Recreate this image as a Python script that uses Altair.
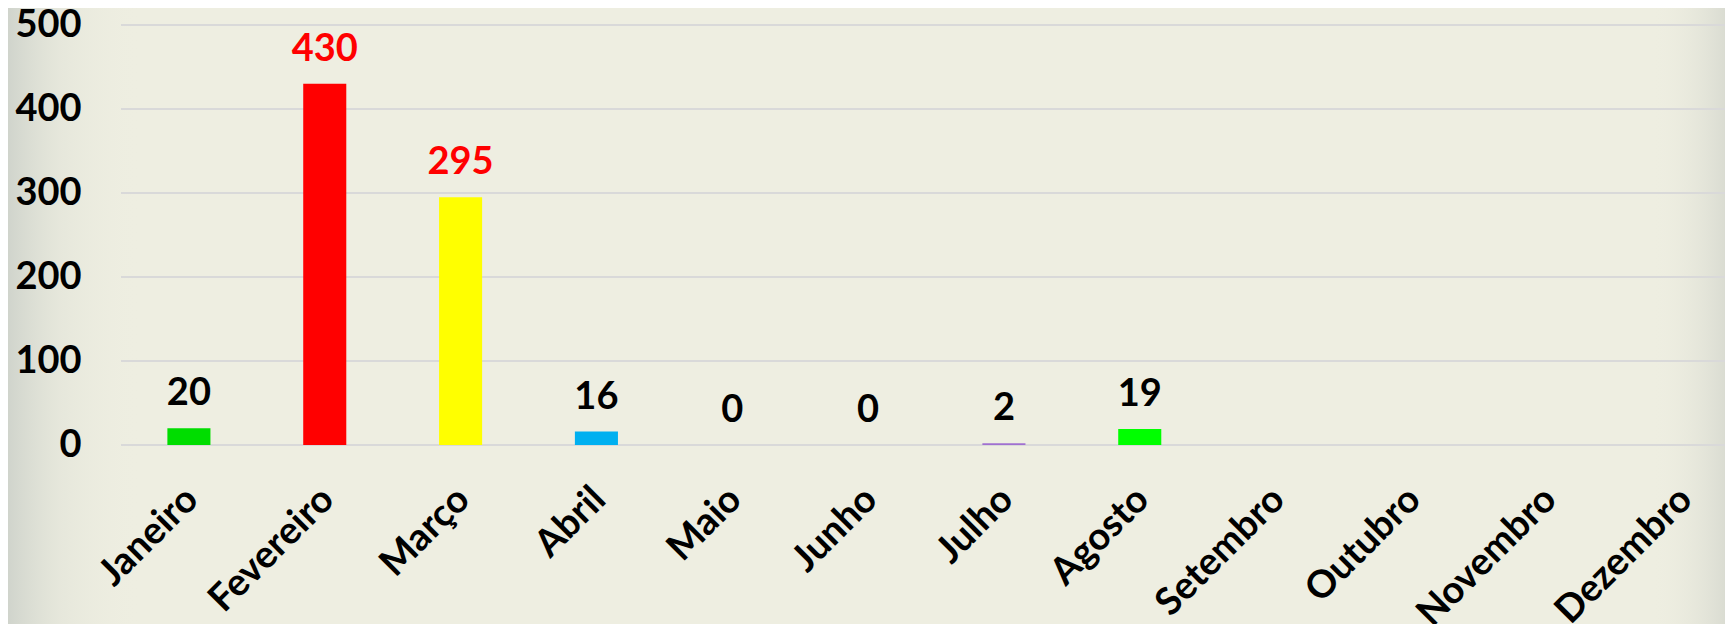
import altair as alt
import pandas as pd

months = ["Janeiro", "Fevereiro", "Março", "Abril", "Maio", "Junho",
          "Julho", "Agosto", "Setembro", "Outubro", "Novembro", "Dezembro"]
values = [20, 430, 295, 16, 0, 0, 2, 19, None, None, None, None]
bar_colors = ["#00DD00", "#FF0000", "#FFFF00", "#00B0F0", "#00B0F0", "#00B0F0",
              "#A070D0", "#00FF00", "#00FF00", "#00FF00", "#00FF00", "#00FF00"]
label_colors = ["#000000", "#FF0000", "#FF0000", "#000000", "#000000", "#000000",
                "#000000", "#000000", "#000000", "#000000", "#000000", "#000000"]
y_ticks = [0, 100, 200, 300, 400, 500]

df = pd.DataFrame({"mes": months, "valor": values,
                   "cor": bar_colors, "cor_rotulo": label_colors})
grid_df = pd.DataFrame({"valor": y_ticks})
one = pd.DataFrame({"k": [0]})

FONT = "Lato"

x_enc = alt.X("mes:N", sort=months,
              scale=alt.Scale(domain=months, range=[0, 1630],
                              paddingInner=0.683, paddingOuter=0.3415),
              axis=alt.Axis(title=None, labelAngle=-45, labelFontSize=38,
                            labelFontWeight="bold", labelColor="#000000",
                            labelFont=FONT, ticks=False, domain=False,
                            labelPadding=35, labelOffset=-10, labelLimit=400,
                            labelOverlap=False, grid=False, zindex=2))
y_scale = alt.Scale(domain=[0, 500], nice=False)
y_enc = alt.Y("valor:Q", scale=y_scale,
              axis=alt.Axis(title=None, values=y_ticks, labelFontSize=38,
                            labelFontWeight="bold", labelColor="#000000",
                            labelFont=FONT, ticks=False, domain=False,
                            labelPadding=40, grid=False, zindex=2))

left_shade = alt.Chart(one).mark_rect(
    fill=alt.Gradient(gradient="linear", x1=0, x2=1, y1=0, y2=0,
                      stops=[alt.GradientStop(color="rgba(208,212,204,1)", offset=0),
                             alt.GradientStop(color="rgba(225,227,216,0.6)", offset=0.4),
                             alt.GradientStop(color="rgba(238,238,225,0)", offset=1)])
).encode(x=alt.value(-113), x2=alt.value(20), y=alt.value(-17), y2=alt.value(599))

right_shade = alt.Chart(one).mark_rect(
    fill=alt.Gradient(gradient="linear", x1=0, x2=1, y1=0, y2=0,
                      stops=[alt.GradientStop(color="rgba(238,238,225,0)", offset=0),
                             alt.GradientStop(color="rgba(218,220,210,1)", offset=1)])
).encode(x=alt.value(1530), x2=alt.value(1604), y=alt.value(-17), y2=alt.value(599))

grid = alt.Chart(grid_df).mark_rule(color="#D9D9D9", strokeWidth=2).encode(
    y=alt.Y("valor:Q", scale=y_scale), x=alt.value(0), x2=alt.value(1604)
)

bars = alt.Chart(df).mark_bar().encode(
    x=x_enc, y=y_enc, color=alt.Color("cor:N", scale=None)
).transform_filter("datum.valor != null")

labels = alt.Chart(df).mark_text(
    dy=-23, baseline="alphabetic", fontSize=38, fontWeight="bold", font=FONT
).encode(
    x=alt.X("mes:N", sort=months), y=alt.Y("valor:Q"),
    text=alt.Text("valor:Q"),
    color=alt.Color("cor_rotulo:N", scale=None)
).transform_filter("datum.valor != null")

chart = alt.layer(left_shade, right_shade, grid, bars, labels).properties(
    width=1604, height=420,
    autosize=alt.AutoSizeParams(type="none"),
    padding={"left": 113, "top": 17, "right": 0, "bottom": 179},
    background="#EEEEE1",
).configure_view(stroke=None)

chart.save("out.html", embed_options={"renderer": "svg", "actions": False})
